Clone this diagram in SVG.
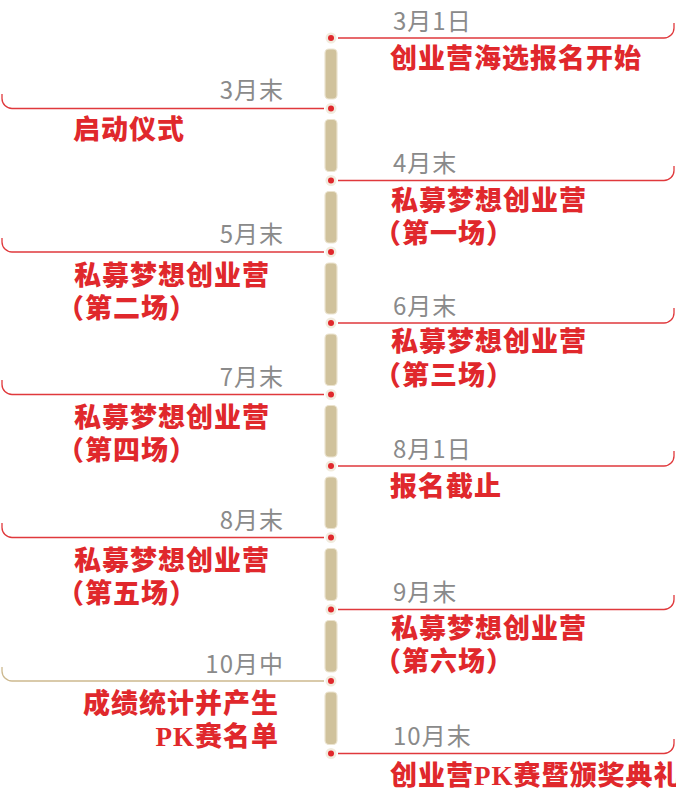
<svg xmlns="http://www.w3.org/2000/svg" width="676" height="790" viewBox="0 0 676 790">
<style>
.date{font-family:"Noto Sans CJK SC","Noto Sans",sans-serif;font-size:24px;letter-spacing:1px;fill:#8a8a8a;}
.lbl{font-family:"Noto Sans CJK SC","Noto Sans",sans-serif;font-size:27px;font-weight:900;letter-spacing:1px;fill:#e0282c;}
.pk{font-family:"Liberation Serif","Noto Sans CJK SC",serif;font-weight:bold;}
.ln{fill:none;stroke:#e0393c;stroke-width:1.3;}
.lnt{fill:none;stroke:#cdb98f;stroke-width:1.3;}
.bar{fill:#d0c29c;stroke:#ebe3cf;stroke-width:1.2;}
.halo{fill:#f1ebde;}
.dot{fill:#e0282c;}
</style>
<defs>
<g id="d"><circle r="5.5" class="halo"/><circle r="3" class="dot"/></g>
</defs>
<g id="connectors">
<path class="ln" d="M338 38 H664 A10 10 0 0 0 674 28 V23"/>
<path class="ln" d="M324 108.5 H12 A10 10 0 0 1 2 98.5 V94"/>
<path class="ln" d="M338 180.5 H664 A10 10 0 0 0 674 170.5 V166"/>
<path class="ln" d="M324 252 H12 A10 10 0 0 1 2 242 V238"/>
<path class="ln" d="M338 323 H664 A10 10 0 0 0 674 313 V308"/>
<path class="ln" d="M324 394.5 H12 A10 10 0 0 1 2 384.5 V380"/>
<path class="ln" d="M338 466 H664 A10 10 0 0 0 674 456 V451"/>
<path class="ln" d="M324 537.5 H12 A10 10 0 0 1 2 527.5 V523"/>
<path class="ln" d="M338 609.5 H664 A10 10 0 0 0 674 599.5 V595"/>
<path class="lnt" d="M324 681 H12 A10 10 0 0 1 2 671 V667"/>
<path class="ln" d="M338 753.5 H664 A10 10 0 0 0 674 743.5 V739"/>
</g>
<g id="spine">
<rect class="bar" x="325" y="49" width="12" height="50" rx="4"/>
<rect class="bar" x="325" y="119.5" width="12" height="52" rx="4"/>
<rect class="bar" x="325" y="191.5" width="12" height="51.5" rx="4"/>
<rect class="bar" x="325" y="263" width="12" height="51" rx="4"/>
<rect class="bar" x="325" y="334" width="12" height="51.5" rx="4"/>
<rect class="bar" x="325" y="405.5" width="12" height="51.5" rx="4"/>
<rect class="bar" x="325" y="477" width="12" height="51.5" rx="4"/>
<rect class="bar" x="325" y="548.5" width="12" height="52" rx="4"/>
<rect class="bar" x="325" y="620.5" width="12" height="51.5" rx="4"/>
<rect class="bar" x="325" y="692" width="12" height="52.5" rx="4"/>
</g>
<g id="n1"><use href="#d" x="331" y="38"/><text class="date" x="393" y="30">3月1日</text><text class="lbl" x="390" y="68">创业营海选报名开始</text></g>
<g id="n2"><use href="#d" x="331" y="108.5"/><text class="date" x="284" y="99" text-anchor="end">3月末</text><text class="lbl" x="73" y="139">启动仪式</text></g>
<g id="n3"><use href="#d" x="331" y="180.5"/><text class="date" x="393" y="172">4月末</text><text class="lbl" x="391" y="210">私募梦想创业营</text><text class="lbl" x="374" y="243">（第一场）</text></g>
<g id="n4"><use href="#d" x="331" y="252"/><text class="date" x="284" y="243" text-anchor="end">5月末</text><text class="lbl" x="74" y="285">私募梦想创业营</text><text class="lbl" x="57" y="318">（第二场）</text></g>
<g id="n5"><use href="#d" x="331" y="323"/><text class="date" x="393" y="315">6月末</text><text class="lbl" x="391" y="351">私募梦想创业营</text><text class="lbl" x="374" y="385">（第三场）</text></g>
<g id="n6"><use href="#d" x="331" y="394.5"/><text class="date" x="284" y="386" text-anchor="end">7月末</text><text class="lbl" x="74" y="427">私募梦想创业营</text><text class="lbl" x="57" y="460">（第四场）</text></g>
<g id="n7"><use href="#d" x="331" y="466"/><text class="date" x="393" y="458">8月1日</text><text class="lbl" x="390" y="496">报名截止</text></g>
<g id="n8"><use href="#d" x="331" y="537.5"/><text class="date" x="284" y="529" text-anchor="end">8月末</text><text class="lbl" x="74" y="570">私募梦想创业营</text><text class="lbl" x="57" y="603">（第五场）</text></g>
<g id="n9"><use href="#d" x="331" y="609.5"/><text class="date" x="393" y="601">9月末</text><text class="lbl" x="391" y="638">私募梦想创业营</text><text class="lbl" x="374" y="671">（第六场）</text></g>
<g id="n10"><use href="#d" x="331" y="681"/><text class="date" x="284" y="673" text-anchor="end">10月中</text><text class="lbl" x="279" y="713" text-anchor="end">成绩统计并产生</text><text class="lbl" x="279" y="746" text-anchor="end"><tspan class="pk">PK</tspan>赛名单</text></g>
<g id="n11"><use href="#d" x="331" y="753.5"/><text class="date" x="393" y="745">10月末</text><text class="lbl" x="390" y="785"><tspan>创业营</tspan><tspan class="pk">PK</tspan><tspan>赛暨颁奖典礼</tspan></text></g>
</svg>
